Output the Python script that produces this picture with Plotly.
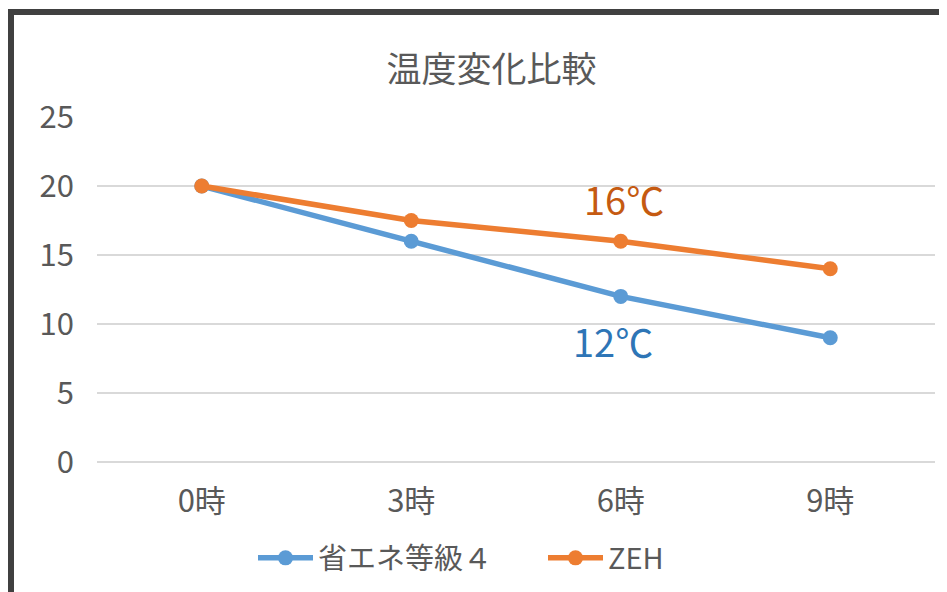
import plotly.graph_objects as go

categories = ["0時", "3時", "6時", "9時"]
series_names = ["省エネ等級４", "ZEH"]
shoene4_values = [20, 16, 12, 9]
zeh_values = [20, 17.5, 16, 14]
y_ticks = [0, 5, 10, 15, 20, 25]
title_text = "温度変化比較"

FONT = "Noto Sans CJK JP"
TEXT_COLOR = "#595959"
BLUE = "#5B9BD5"
ORANGE = "#ED7D31"

# page has an 8px body margin; figure coordinates = page coordinates - 8
W, H = 939, 584
L, R, T, B = 89, 12, 109, 130
pw, ph = W - L - R, H - T - B

def px_to_paper_x(px):
    return (px - L) / pw

def px_to_paper_y(py):
    return (H - B - py) / ph

fig = go.Figure()
fig.add_trace(go.Scatter(
    x=categories, y=shoene4_values, name=series_names[0], mode="lines+markers",
    line=dict(color=BLUE, width=5.5), marker=dict(color=BLUE, size=15),
))
fig.add_trace(go.Scatter(
    x=categories, y=zeh_values, name=series_names[1], mode="lines+markers",
    line=dict(color=ORANGE, width=5.5), marker=dict(color=ORANGE, size=15),
))

fig.add_annotation(x=categories[2], y=zeh_values[2], text="16℃", showarrow=False,
                   xshift=3, yshift=43, font=dict(family=FONT, size=38, color="#C55A11"))
fig.add_annotation(x=categories[2], y=shoene4_values[2], text="12℃", showarrow=False,
                   xshift=-8, yshift=-44, font=dict(family=FONT, size=38, color="#2E75B6"))

fig.add_shape(type="rect", xref="paper", yref="paper",
              x0=px_to_paper_x(3), x1=px_to_paper_x(1200),
              y0=px_to_paper_y(800), y1=px_to_paper_y(4),
              line=dict(color="#404040", width=6), fillcolor="rgba(0,0,0,0)", layer="above")

fig.update_layout(
    width=W, height=H,
    margin=dict(l=L, r=R, t=T, b=B, pad=0, autoexpand=False),
    paper_bgcolor="white", plot_bgcolor="white",
    font=dict(family=FONT, color=TEXT_COLOR, size=30),
    title=dict(text=title_text, xref="container", yref="container",
               x=483.5 / W, y=1 - 62 / H, xanchor="center", yanchor="middle",
               font=dict(family=FONT, size=35, color=TEXT_COLOR)),
    showlegend=True,
    legend=dict(orientation="h", xref="paper", yref="paper",
                x=px_to_paper_x(245), y=px_to_paper_y(550),
                xanchor="left", yanchor="middle",
                font=dict(family=FONT, size=29, color=TEXT_COLOR),
                itemwidth=55, entrywidth=220, bgcolor="rgba(0,0,0,0)"),
    xaxis=dict(type="category", range=[-0.5, 3.5], showgrid=False, showline=False,
               ticks="", ticklabelstandoff=18, tickfont=dict(size=31), automargin=False),
    yaxis=dict(range=[0, 25], tickvals=y_ticks, showgrid=True, gridcolor="#D9D9D9",
               gridwidth=1.5, zeroline=True, zerolinecolor="#D9D9D9", zerolinewidth=1.5,
               showline=False, ticks="", ticklabelstandoff=22, tickfont=dict(size=31),
               automargin=False),
)

fig.write_html("out.html")
